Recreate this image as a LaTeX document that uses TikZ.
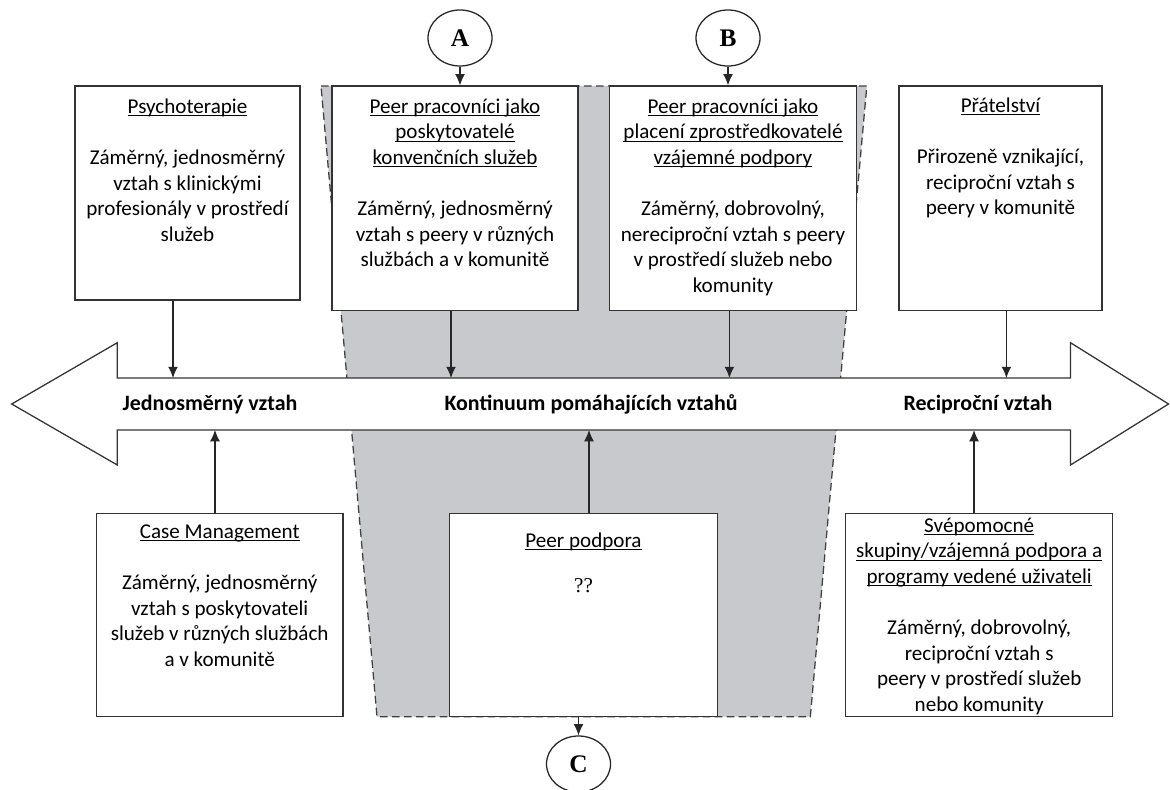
\documentclass[tikz,border=0pt]{standalone}
\usepackage{fontspec}
\setmainfont{Carlito}
\newfontfamily\timesfont{Liberation Serif}
\usepackage{tikz}
\usetikzlibrary{shapes.geometric, arrows.meta, fit}
\definecolor{band}{RGB}{200,201,204}
\newcommand{\ulhead}[1]{\underline{\smash{#1}}}
\tikzstyle{box} = [draw=black!80, line width=0.9pt, fill=white, inner sep=0pt]
\tikzstyle{ring} = [ellipse, draw=black!85, line width=0.9pt, fill=white, minimum width=1.6cm, minimum height=1.4cm, inner sep=0pt, font=\timesfont\bfseries\fontsize{18}{20}\selectfont]
\tikzstyle{arrow} = [draw=black!85, line width=0.8pt, ->, >={Latex[length=8pt,width=7pt]}]
\tikzstyle{txt} = [anchor=north, inner sep=0pt, align=center, font=\fontsize{15}{18.2}\selectfont]
\tikzstyle{scalelabel} = [anchor=base, inner sep=0pt, font=\bfseries\fontsize{15.6}{18.2}\selectfont]

\begin{document}
\begin{tikzpicture}[x=0.025cm,y=-0.025cm]

\useasboundingbox[fill=white] (0,0) rectangle (1170,789);

% grey band behind the peer services
\draw[fill=band, draw=black!75, line width=0.9pt, dash pattern=on 5.5pt off 3pt] (321,86) -- (866.8,86) -- (810.3,716.7) -- (377,716.7) -- cycle;

% continuum arrow
\draw[fill=white, draw=black!80, line width=0.9pt] (11.7,404) -- (117.3,342.7) -- (117.3,378) -- (1070.5,378) -- (1070.5,342.7) -- (1168.5,404) -- (1070.5,465) -- (1070.5,430) -- (117.3,430) -- (117.3,465) -- cycle;

\node[scalelabel] (oneway) at (210,410) {Jednosměrný vztah};
\node[scalelabel] (middle) at (591,410) {Kontinuum pomáhajících vztahů};
\node[scalelabel] (twoway) at (978,410) {Reciproční vztah};

% upper boxes
\node[box, fit={(75,86) (300,300)}] (psy) {};
\node[box, fit={(332,86) (578,310.7)}] (peerA) {};
\node[box, fit={(609.4,86) (856.6,310.7)}] (peerB) {};
\node[box, fit={(899,86) (1102,310.7)}] (friend) {};

% lower boxes
\node[box, fit={(96.4,513.3) (343,716.7)}] (case) {};
\node[box, fit={(449.3,513.3) (717.7,716.7)}] (pod) {};
\node[box, fit={(845.7,513.3) (1112.6,716.7)}] (self) {};

\node[txt] (psy-t) at (187.5,113) {\ulhead{Psychoterapie}\\[\baselineskip]Záměrný, jednosměrný\\vztah s klinickými\\profesionály v prostředí\\služeb};
\node[txt] (peerA-t) at (455,113) {\ulhead{Peer pracovníci jako}\\\ulhead{poskytovatelé}\\\ulhead{konvenčních služeb}\\[\baselineskip]Záměrný, jednosměrný\\vztah s peery v různých\\službách a v komunitě};
\node[txt] (peerB-t) at (733,113) {\ulhead{Peer pracovníci jako}\\\ulhead{placení zprostředkovatelé}\\\ulhead{vzájemné podpory}\\[\baselineskip]Záměrný, dobrovolný,\\nereciproční vztah s peery\\v prostředí služeb nebo\\komunity};
\node[txt] (friend-t) at (1000.5,112) {\ulhead{Přátelství}\\[\baselineskip]Přirozeně vznikající,\\reciproční vztah s\\peery v komunitě};
\node[txt] (case-t) at (219.7,538) {\ulhead{Case Management}\\[\baselineskip]Záměrný, jednosměrný\\vztah s poskytovateli\\služeb v různých službách\\a v komunitě};
\node[txt] (pod-t) at (583.5,547) {\ulhead{Peer podpora}\\[14pt]{\timesfont ??}};
\node[txt] (self-t) at (979.2,532) {\ulhead{Svépomocné}\\\ulhead{skupiny/vzájemná podpora a}\\\ulhead{programy vedené uživateli}\\[\baselineskip]Záměrný, dobrovolný,\\reciproční vztah s\\peery v prostředí služeb\\nebo komunity};

% letters
\node[ring] (A) at (460,38) {A};
\node[ring] (B) at (728,38) {B};
\node[ring] (C) at (578.5,764) {C};

% connectors
\coordinate (psy-in) at (173,378);
\coordinate (peerA-in) at (451,378);
\coordinate (peerB-in) at (729.4,378);
\coordinate (friend-in) at (1006.4,378);
\coordinate (case-in) at (215,430);
\coordinate (pod-in) at (589,430);
\coordinate (self-in) at (974,430);

\draw[arrow] (A) -- (A |- peerA.north);
\draw[arrow] (B) -- (B |- peerB.north);
\draw[arrow] (psy.south -| psy-in) -- (psy-in);
\draw[arrow] (peerA.south -| peerA-in) -- (peerA-in);
\draw[arrow] (peerB.south -| peerB-in) -- (peerB-in);
\draw[arrow] (friend.south -| friend-in) -- (friend-in);
\draw[arrow] (case.north -| case-in) -- (case-in);
\draw[arrow] (pod.north -| pod-in) -- (pod-in);
\draw[arrow] (self.north -| self-in) -- (self-in);
\draw[arrow] (pod.south -| C) -- (C);

\end{tikzpicture}
\end{document}
